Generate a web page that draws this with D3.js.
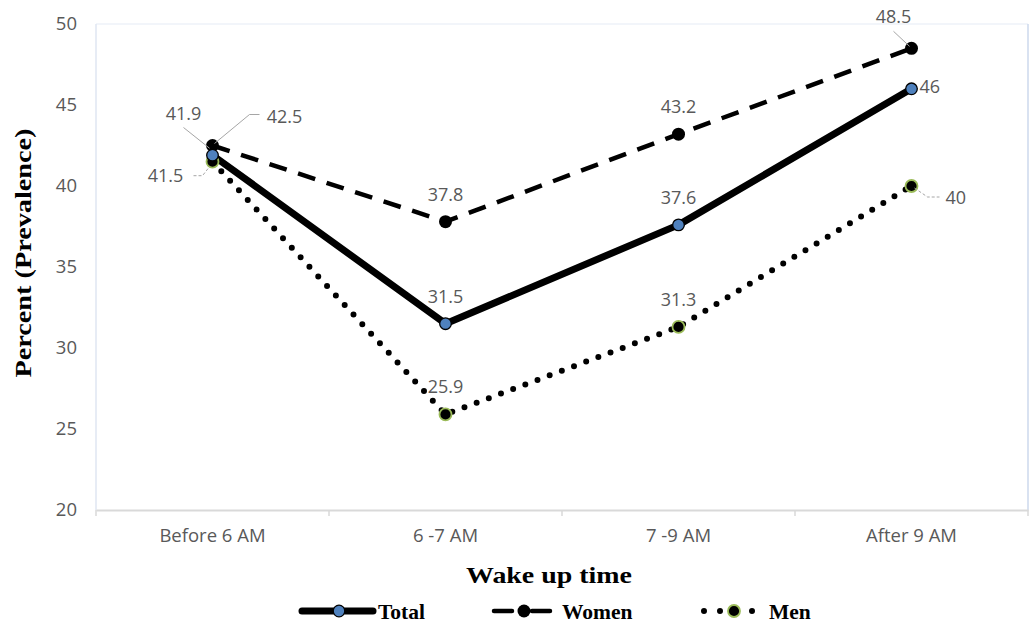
<!DOCTYPE html>
<html><head><meta charset="utf-8">
<script src="https://cdn.jsdelivr.net/npm/d3@7"></script>
<style>body{margin:0;background:#fff}svg{display:block}</style>
</head><body>
<svg id="chart" width="1030" height="624"></svg>
<script>
const categories = ["Before 6 AM", "6 -7 AM", "7 -9 AM", "After 9 AM"];
const totalValues = [41.9, 31.5, 37.6, 46];
const womenValues = [42.5, 37.8, 43.2, 48.5];
const menValues = [41.5, 25.9, 31.3, 40];
const yTicks = [20, 25, 30, 35, 40, 45, 50];
const seriesNames = ["Total", "Women", "Men"];

const svg = d3.select("#chart");
const m = {l: 96, r: 1028, t: 24, b: 510};
const x = d3.scaleBand().domain(categories).range([m.l, m.r]);
const cx = c => x(c) + x.bandwidth() / 2;
const y = d3.scaleLinear().domain([20, 50]).range([m.b, m.t]);

// plot frame
svg.append("line").attr("x1", m.l).attr("x2", m.r).attr("y1", m.t).attr("y2", m.t).attr("stroke", "#eef2f9").attr("stroke-width", 1.5);
svg.append("line").attr("x1", m.l).attr("x2", m.l).attr("y1", m.t).attr("y2", m.b).attr("stroke", "#dfe6f2").attr("stroke-width", 1.5);
svg.append("line").attr("x1", m.r).attr("x2", m.r).attr("y1", m.t).attr("y2", m.b).attr("stroke", "#ccd8ec").attr("stroke-width", 1.5);

// x axis
const xAxis = svg.append("g").attr("transform", `translate(0,${m.b})`)
  .call(d3.axisBottom(x).tickSize(0).tickPadding(19));
xAxis.select(".domain").attr("stroke", "#d9d9d9").attr("stroke-width", 2);
xAxis.selectAll("text").attr("font-family", "Open Sans, sans-serif").attr("font-size", 18.5).attr("fill", "#595959");
const tickPos = categories.map(c => x(c)).concat([m.r]);
svg.append("g").selectAll("line").data(tickPos).join("line")
  .attr("x1", d => d).attr("x2", d => d).attr("y1", m.b).attr("y2", m.b + 6)
  .attr("stroke", "#d9d9d9").attr("stroke-width", 1.5);

// y axis labels
const yAxis = svg.append("g").attr("transform", `translate(${m.l},0)`)
  .call(d3.axisLeft(y).tickValues(yTicks).tickSize(0).tickPadding(19));
yAxis.select(".domain").remove();
yAxis.selectAll("text").attr("font-family", "Open Sans, sans-serif").attr("font-size", 18.5).attr("fill", "#595959");

// axis titles
svg.append("text").attr("transform", "translate(31,253) rotate(-90)").attr("text-anchor", "middle")
  .attr("font-family", "Liberation Serif, serif").attr("font-weight", "bold").attr("font-size", 24)
  .attr("textLength", 249).attr("lengthAdjust", "spacingAndGlyphs").text("Percent (Prevalence)");
svg.append("text").attr("x", 549).attr("y", 583).attr("text-anchor", "middle")
  .attr("font-family", "Liberation Serif, serif").attr("font-weight", "bold").attr("font-size", 24)
  .attr("textLength", 166).attr("lengthAdjust", "spacingAndGlyphs").text("Wake up time");

const line = d3.line().x((d, i) => cx(categories[i])).y(d => y(d));

// men (dotted)
svg.append("path").datum(menValues).attr("d", line).attr("fill", "none").attr("stroke", "#000")
  .attr("stroke-width", 6).attr("stroke-linecap", "round").attr("stroke-dasharray", "0,13");
// women (dashed)
svg.append("path").datum(womenValues).attr("d", line).attr("fill", "none").attr("stroke", "#000")
  .attr("stroke-width", 4.5).attr("stroke-dasharray", "18,12");
// total (solid)
svg.append("path").datum(totalValues).attr("d", line).attr("fill", "none").attr("stroke", "#000")
  .attr("stroke-width", 7).attr("stroke-linejoin", "round");

// markers
svg.append("g").selectAll("circle").data(menValues).join("circle")
  .attr("cx", (d, i) => cx(categories[i])).attr("cy", d => y(d)).attr("r", 6)
  .attr("fill", "#000").attr("stroke", "#9bbb59").attr("stroke-width", 1.8);
svg.append("g").selectAll("circle").data(womenValues).join("circle")
  .attr("cx", (d, i) => cx(categories[i])).attr("cy", d => y(d)).attr("r", 6.5)
  .attr("fill", "#000");
svg.append("g").selectAll("circle").data(totalValues).join("circle")
  .attr("cx", (d, i) => cx(categories[i])).attr("cy", d => y(d)).attr("r", 5.8)
  .attr("fill", "#4f81bd").attr("stroke", "#000").attr("stroke-width", 1.3);

// data labels
const lab = svg.append("g").attr("font-family", "Open Sans, sans-serif").attr("font-size", 18).attr("fill", "#595959");
function label(xp, yp, txt, anchor) {
  lab.append("text").attr("x", xp).attr("y", yp).attr("text-anchor", anchor || "middle")
    .attr("dominant-baseline", "central").text(txt);
}
const offs = 28;
const x0 = cx(categories[0]);
label(x0 - 29, y(womenValues[0]) - 33, totalValues[0]);
label(x0 + 72, y(womenValues[0]) - 30, womenValues[0]);
label(x0 - 47, y(menValues[0]) + 13, menValues[0]);
const leader = svg.append("g").attr("fill", "none").attr("stroke", "#a6a6a6").attr("stroke-width", 1);
leader.append("polyline").attr("points", `${x0 - 29},${y(womenValues[0]) - 18} ${x0 - 3},${y(totalValues[0]) - 7}`);
leader.append("polyline").attr("points", `${x0 + 2},${y(womenValues[0]) - 2} ${x0 + 37},${y(womenValues[0]) - 31} ${x0 + 47},${y(womenValues[0]) - 31}`);
leader.append("polyline").attr("stroke-dasharray", "3,2").attr("points", `${x0 - 19},${y(menValues[0]) + 14} ${x0 - 10},${y(menValues[0]) + 14} ${x0 - 3},${y(menValues[0]) + 5}`);
[1, 2].forEach(i => {
  const c = cx(categories[i]);
  label(c, y(totalValues[i]) - offs, totalValues[i]);
  label(c, y(womenValues[i]) - offs, womenValues[i]);
  label(c, y(menValues[i]) - offs, menValues[i]);
});
const x3 = cx(categories[3]);
label(x3 - 18, y(womenValues[3]) - 32, womenValues[3]);
leader.append("polyline").attr("points", `${x3 - 18},${y(womenValues[3]) - 17} ${x3 - 2},${y(womenValues[3]) - 2}`);
label(x3 + 8, y(totalValues[3]) - 3, totalValues[3], "start");
label(x3 + 34, y(menValues[3]) + 11, menValues[3], "start");
leader.append("polyline").attr("stroke-dasharray", "3,2").attr("points", `${x3 + 3},${y(menValues[3]) + 2} ${x3 + 16},${y(menValues[3]) + 11} ${x3 + 28},${y(menValues[3]) + 11}`);

// legend
const ly = 611;
const lg = svg.append("g");
const lt = (xp, t) => lg.append("text").attr("x", xp).attr("y", ly + 1).attr("dominant-baseline", "central")
  .attr("font-family", "Liberation Serif, serif").attr("font-weight", "bold").attr("font-size", 21.5).text(t);
lg.append("line").attr("x1", 302).attr("x2", 373).attr("y1", ly).attr("y2", ly).attr("stroke", "#000").attr("stroke-width", 7).attr("stroke-linecap", "round");
lg.append("circle").attr("cx", 339).attr("cy", ly).attr("r", 5.8).attr("fill", "#4f81bd").attr("stroke", "#000").attr("stroke-width", 1.3);
lt(378, seriesNames[0]);
lg.append("line").attr("x1", 494).attr("x2", 550).attr("y1", ly).attr("y2", ly).attr("stroke", "#000").attr("stroke-width", 4.5).attr("stroke-dasharray", "18,20").attr("stroke-linecap", "round");
lg.append("circle").attr("cx", 524).attr("cy", ly).attr("r", 6.5).attr("fill", "#000");
lt(562, seriesNames[1]);
lg.append("line").attr("x1", 704).attr("x2", 753).attr("y1", ly).attr("y2", ly).attr("stroke", "#000").attr("stroke-width", 6).attr("stroke-linecap", "round").attr("stroke-dasharray", "0,16");
lg.append("circle").attr("cx", 734).attr("cy", ly).attr("r", 6).attr("fill", "#000").attr("stroke", "#9bbb59").attr("stroke-width", 1.8);
lt(769, seriesNames[2]);
</script>
</body></html>
